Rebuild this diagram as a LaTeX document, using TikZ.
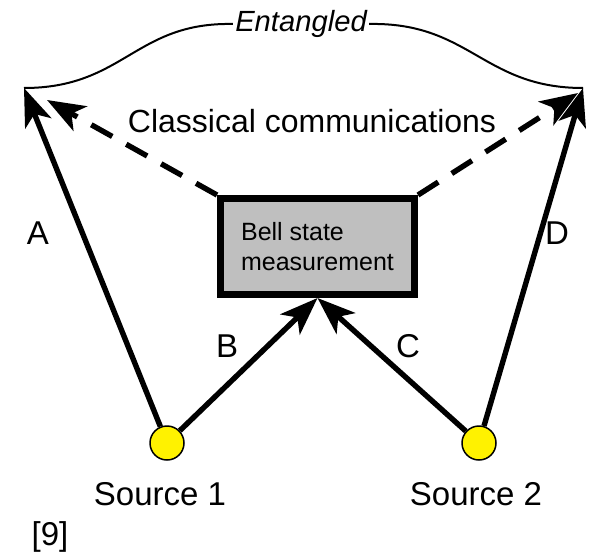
\documentclass[tikz,border=0pt]{standalone}
\usepackage{fontspec}
\setmainfont{Liberation Sans}
\usetikzlibrary{positioning, arrows.meta}
\tikzset{%
  source/.style    = {draw, circle, fill = yellow, minimum size = 17pt,
    inner sep = 0pt, line width = 0.75pt},
  bsm/.style       = {draw, rectangle, fill = gray!50, line width = 3.5pt,
    minimum width = 97pt, minimum height = 48pt, align = left,
    font = \fontsize{12.5}{15}\selectfont}, % Bell state measurement
  photon/.style    = {line width = 2.7pt,
    -{Stealth[length = 19pt, width = 14pt, inset = 5pt]}}, % Quantum channel
  classical/.style = {photon, dash pattern = on 12pt off 8pt}, % Classical channel
  lbl/.style       = {anchor = base, inner sep = 0pt,
    font = \fontsize{16.5}{19}\selectfont}
}

\begin{document}
\begin{tikzpicture}[x = 0.5pt, y = -0.5pt]
\useasboundingbox (0,0) rectangle (597,557);
%sources and measurement
\draw
	(167,443) node [source] (src1) {}
	(479,443) node [source] (src2) {}
	(317.5,246.5) node [bsm] (bsm) {Bell state\\measurement};
%detector ends
\coordinate (tipA) at (24,88);
\coordinate (tipD) at (583,88);
\coordinate (clA) at (47,100);
\coordinate (clD) at (578,93);
\node[inner xsep = 1pt, font = \fontsize{14.6}{17}\selectfont\itshape] (ent) at (301,24) {Entangled};
%quantum channels
\draw[photon] (src1) -- (tipA);
\draw[photon] (src1) -- (bsm.south);
\draw[photon] (src2) -- (bsm.south);
\draw[photon] (src2) -- (tipD);
%classical channels
\draw[classical] (bsm.north west) -- (clA);
\draw[classical] (bsm.north east) -- (clD);
%entanglement bracket
\draw[line width = 1pt] (tipA) .. controls (124,88) and (135,22) .. (ent.west);
\draw[line width = 1pt] (ent.east) .. controls (470,22) and (483,88) .. (tipD);
%labels
\node[lbl] (lA) at (38,244) {A};
\node[lbl] (lB) at (227,357) {B};
\node[lbl] (lC) at (408,357) {C};
\node[lbl] (lD) at (557,244) {D};
\node[lbl, font = \fontsize{16}{19}\selectfont] (cc) at (312,132) {Classical communications};
\node[lbl] (s1) at (160,505) {Source 1};
\node[lbl] (s2) at (476,505) {Source 2};
\node[lbl] (ref) at (50,545) {[9]};
\end{tikzpicture}
\end{document}
